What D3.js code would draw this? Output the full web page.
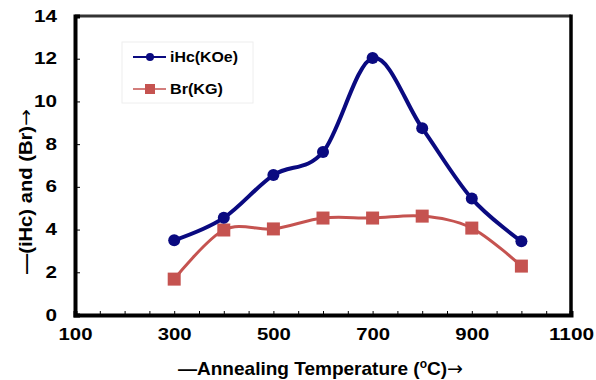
<!DOCTYPE html>
<html><head><meta charset="utf-8">
<script src="https://cdn.jsdelivr.net/npm/d3@7"></script>
<style>body{margin:0;background:#fff}svg{display:block}text{font-family:Arial,"Liberation Sans",sans-serif;font-weight:bold}</style>
</head><body>
<svg id="c" width="596" height="380"></svg>
<script>
const temps = [300,400,500,600,700,800,900,1000];
const iHc = [3.5,4.55,6.55,7.63,12.03,8.75,5.45,3.45];
const Br  = [1.68,3.98,4.03,4.54,4.54,4.63,4.07,2.29];
const xTicks = [100,300,500,700,900,1100];
const yTicks = [0,2,4,6,8,10,12,14];
const seriesNames = ["iHc(KOe)","Br(KG)"];

const svg = d3.select("#c");
const L=75, R=571, T=16, B=315;
const x = d3.scaleLinear().domain([100,1100]).range([L,R]);
const y = d3.scaleLinear().domain([0,14]).range([B,T]);
const FF = "Arial, 'Liberation Sans', sans-serif";

// frame
svg.append("line").attr("x1",L).attr("x2",R).attr("y1",T).attr("y2",T).attr("stroke","#333").attr("stroke-width",3);
svg.append("line").attr("x1",R).attr("x2",R).attr("y1",T-1.5).attr("y2",B).attr("stroke","#000").attr("stroke-width",3.5);

// y axis
const yAxis = d3.axisLeft(y).tickValues(yTicks).tickSize(-5).tickPadding(18).tickFormat(d3.format("d"));
const gy = svg.append("g").attr("transform",`translate(${L},0)`).call(yAxis);
gy.select(".domain").attr("stroke","#000").attr("stroke-width",4);
gy.selectAll(".tick line").attr("stroke","#000").attr("stroke-width",1);
gy.selectAll("text").attr("font-size",16).attr("fill","#000").style("font-family",FF).style("font-weight","bold")
  .attr("textLength",d=>String(d).length*11.5).attr("lengthAdjust","spacingAndGlyphs");

// x axis
const xMinor = d3.range(100,1101,50);
const xAxis = d3.axisBottom(x).tickValues(xMinor).tickSize(-4).tickPadding(14).tickFormat(d=> xTicks.includes(d)? d : "");
const gx = svg.append("g").attr("transform",`translate(0,${B})`).call(xAxis);
gx.select(".domain").attr("stroke","#000").attr("stroke-width",4);
gx.selectAll(".tick line").attr("stroke","#000").attr("stroke-width",1);
gx.selectAll("text").attr("font-size",16).attr("fill","#000").style("font-family",FF).style("font-weight","bold")
  .attr("textLength",d=> xTicks.includes(d)? String(d).length*11.3 : null).attr("lengthAdjust","spacingAndGlyphs");

const blue="#0a0a80", red="#c55350";
const line = d3.line().x((d,i)=>x(temps[i])).y(d=>y(d)).curve(d3.curveCardinal.tension(0));

svg.append("path").datum(Br).attr("d",line).attr("fill","none").attr("stroke",red).attr("stroke-width",3);
svg.selectAll(".sq").data(Br).enter().append("rect")
  .attr("x",(d,i)=>x(temps[i])-6.5).attr("y",d=>y(d)-6.5).attr("width",13).attr("height",13).attr("fill",red);

svg.append("path").datum(iHc).attr("d",line).attr("fill","none").attr("stroke",blue).attr("stroke-width",4);
svg.selectAll(".ci").data(iHc).enter().append("circle")
  .attr("cx",(d,i)=>x(temps[i])).attr("cy",d=>y(d)).attr("r",6).attr("fill",blue);

// legend
const lg = svg.append("g");
lg.append("rect").attr("x",122).attr("y",42).attr("width",131).attr("height",61).attr("fill","#fff").attr("stroke","#eee").attr("stroke-width",1);
lg.append("line").attr("x1",133).attr("x2",166).attr("y1",57).attr("y2",57).attr("stroke",blue).attr("stroke-width",2);
lg.append("circle").attr("cx",150).attr("cy",57).attr("r",4).attr("fill",blue);
lg.append("text").attr("x",170).attr("y",62).attr("font-size",14).attr("textLength",68).attr("lengthAdjust","spacingAndGlyphs").text(seriesNames[0]);
lg.append("line").attr("x1",133).attr("x2",166).attr("y1",89).attr("y2",89).attr("stroke",red).attr("stroke-width",1.5);
lg.append("rect").attr("x",145).attr("y",84).attr("width",10).attr("height",10).attr("fill",red);
lg.append("text").attr("x",170).attr("y",94).attr("font-size",14).attr("textLength",53).attr("lengthAdjust","spacingAndGlyphs").text(seriesNames[1]);

// axis titles
const xt = svg.append("text").attr("x",178).attr("y",375).attr("font-size",19).attr("textLength",285).attr("lengthAdjust","spacingAndGlyphs");
xt.append("tspan").text("\u2014Annealing Temperature (");
xt.append("tspan").attr("font-size",12).attr("dy",-7).text("o");
xt.append("tspan").attr("dy",7).text("C)");
xt.append("tspan").style("font-family","'DejaVu Sans'").style("font-weight","normal").text("\u2192");

const yt = svg.append("text").attr("transform","translate(32,274) rotate(-90)").attr("font-size",18).attr("textLength",165).attr("lengthAdjust","spacingAndGlyphs");
yt.append("tspan").text("\u2014(iHc) and (Br)");
yt.append("tspan").style("font-family","'DejaVu Sans'").style("font-weight","normal").text("\u2192");
</script>
</body></html>
